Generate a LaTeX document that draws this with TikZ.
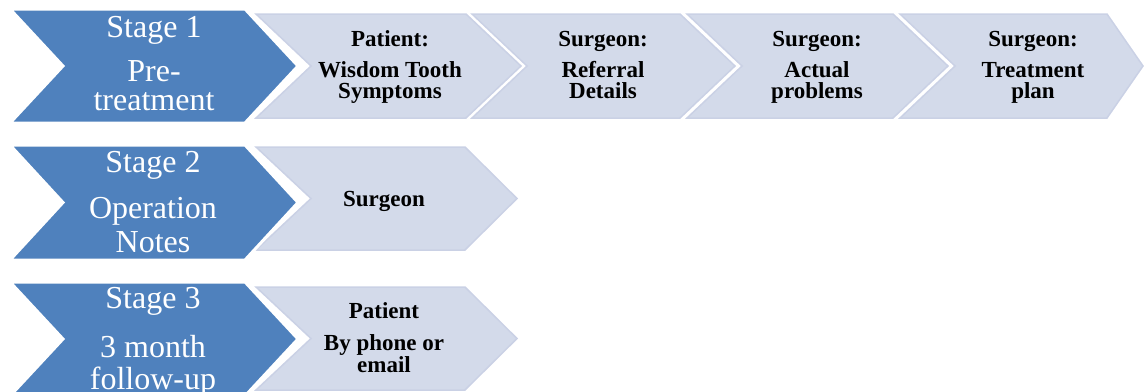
\documentclass[tikz,border=0pt]{standalone}
\usepackage{fontspec}
\setmainfont{Liberation Serif}
\definecolor{stageblue}{RGB}{79,129,189}
\definecolor{lavender}{RGB}{211,218,234}
\definecolor{lavrim}{RGB}{202,209,229}
\tikzset{
  darkchev/.style={fill=stageblue, draw=white, line width=3pt, line join=miter},
  lightchev/.style={fill=lavender, draw=lavrim, line width=1.5pt, line join=miter},
  stagetext/.style={text=white, font=\fontsize{32}{32}\selectfont, anchor=base, inner sep=0pt},
  steptext/.style={text=black, font=\bfseries\fontsize{23}{23}\selectfont, anchor=base, inner sep=0pt},
}
\begin{document}
\begin{tikzpicture}[x=1pt,y=-1pt]
\useasboundingbox (0,0) rectangle (1145,391);
\clip (0,0) rectangle (1145,391);
% light chevrons, row 1
\draw[lightchev] (256,14) -- (466,14) -- (521,66) -- (466,118) -- (256,118) -- (311,66) -- cycle;
\draw[lightchev] (472,14) -- (680,14) -- (735,66) -- (680,118) -- (472,118) -- (527,66) -- cycle;
\draw[lightchev] (687,14) -- (893,14) -- (948,66) -- (893,118) -- (687,118) -- (742,66) -- cycle;
\draw[lightchev] (900,14) -- (1107,14) -- (1143,66) -- (1107,118) -- (900,118) -- (955,66) -- cycle;
% light chevrons, rows 2 and 3
\draw[lightchev] (256,147) -- (465,147) -- (517,198.5) -- (465,250) -- (256,250) -- (311,198.5) -- cycle;
\draw[lightchev] (256,287) -- (465,287) -- (517,338.5) -- (465,390) -- (256,390) -- (311,338.5) -- cycle;
% dark stage chevrons
\draw[darkchev] (10,9) -- (245,9) -- (298,66) -- (245,123) -- (10,123) -- (63,66) -- cycle;
\draw[darkchev] (10,145) -- (245,145) -- (298,202.5) -- (245,260) -- (10,260) -- (63,202.5) -- cycle;
\draw[darkchev] (10,282) -- (245,282) -- (298,339) -- (245,396) -- (10,396) -- (63,339) -- cycle;
% stage texts
\node[stagetext] (s1a) at (154,37) {Stage 1};
\node[stagetext] (s1b) at (154,81) {Pre-};
\node[stagetext] (s1c) at (154,110) {treatment};
\node[stagetext] (s2a) at (153,172) {Stage 2};
\node[stagetext] (s2b) at (153,218) {Operation};
\node[stagetext] (s2c) at (153,252) {Notes};
\node[stagetext] (s3a) at (153,308) {Stage 3};
\node[stagetext] (s3b) at (153,357) {3 month};
\node[stagetext] (s3c) at (153,389) {follow-up};
% step texts, row 1
\node[steptext] (p1a) at (390,46) {Patient:};
\node[steptext] (p1b) at (390,77) {Wisdom Tooth};
\node[steptext] (p1c) at (390,98) {Symptoms};
\node[steptext] (p2a) at (603,46) {Surgeon:};
\node[steptext] (p2b) at (603,77) {Referral};
\node[steptext] (p2c) at (603,98) {Details};
\node[steptext] (p3a) at (817,46) {Surgeon:};
\node[steptext] (p3b) at (817,77) {Actual};
\node[steptext] (p3c) at (817,98) {problems};
\node[steptext] (p4a) at (1033,46) {Surgeon:};
\node[steptext] (p4b) at (1033,77) {Treatment};
\node[steptext] (p4c) at (1033,98) {plan};
% step texts, rows 2 and 3
\node[steptext] (q1a) at (384,206) {Surgeon};
\node[steptext] (r1a) at (384,318) {Patient};
\node[steptext] (r1b) at (384,350) {By phone or};
\node[steptext] (r1c) at (384,372) {email};
\end{tikzpicture}
\end{document}
